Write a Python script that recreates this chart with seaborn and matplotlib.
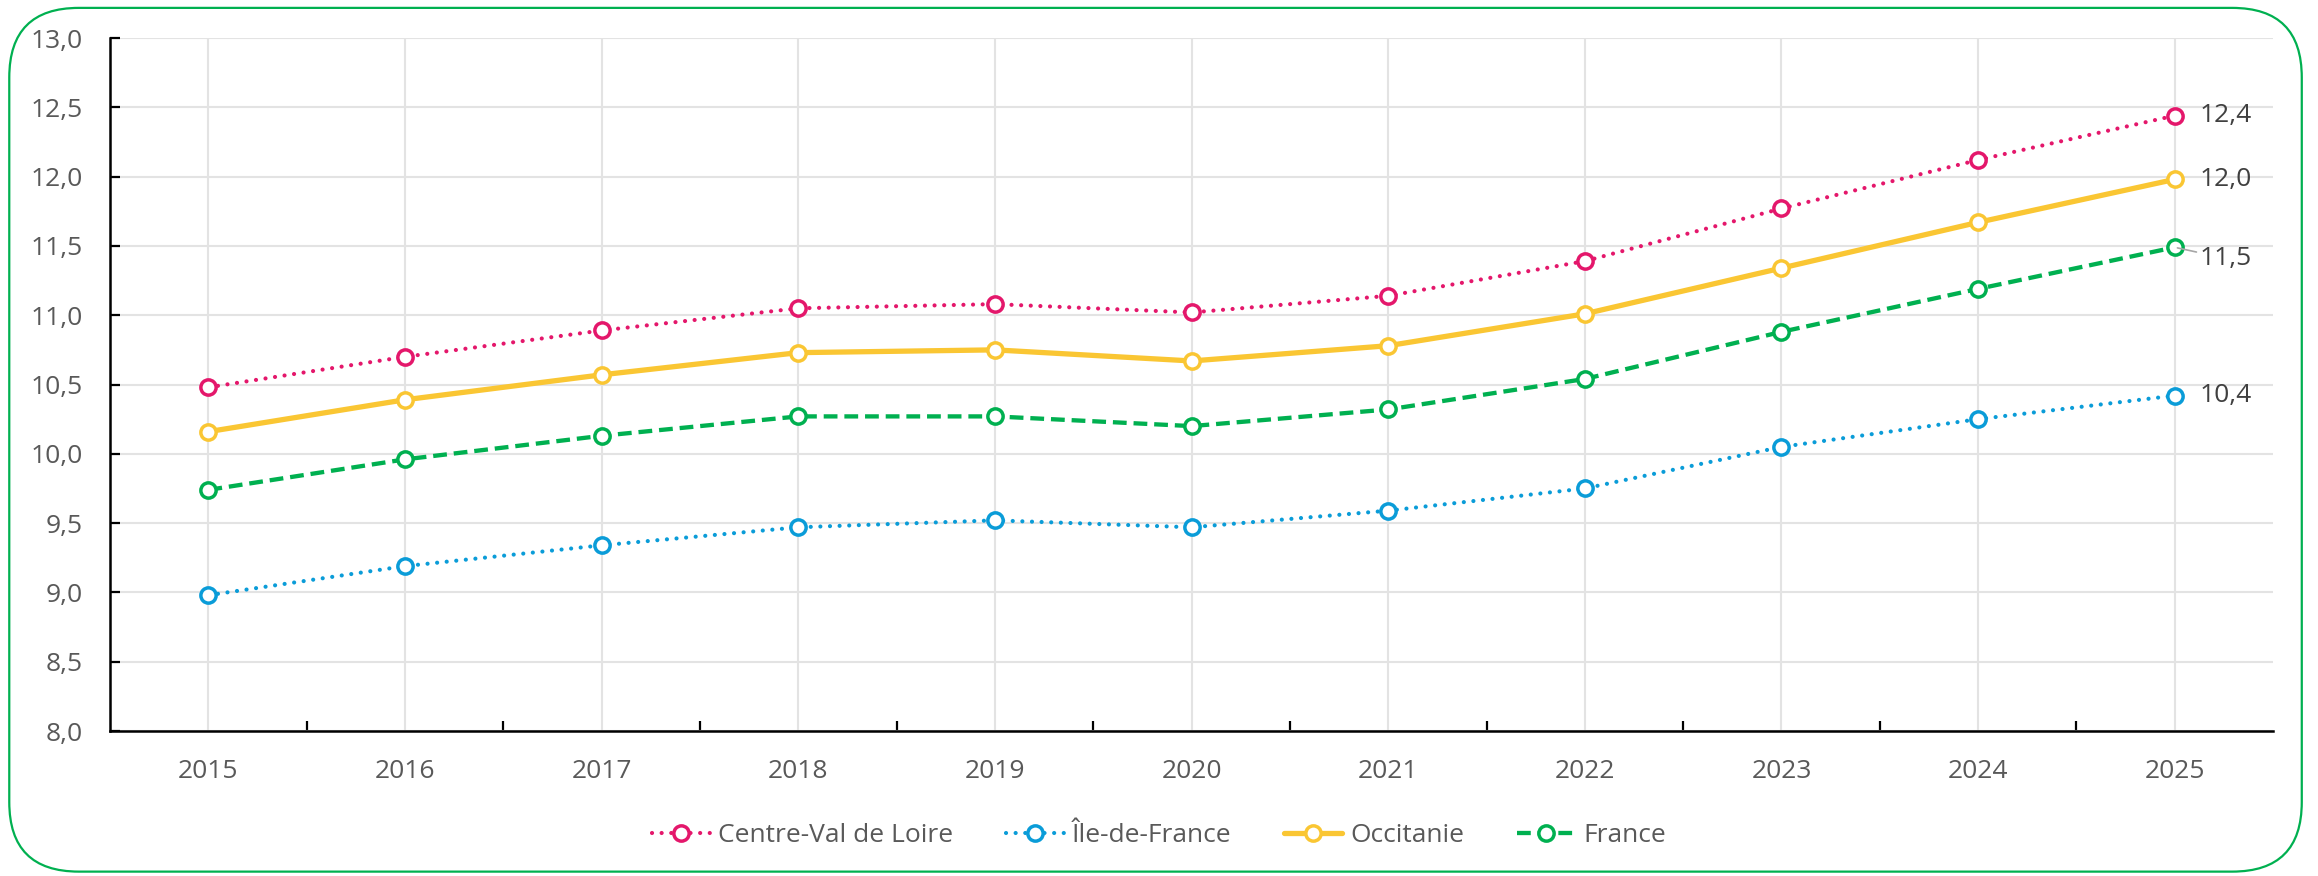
import matplotlib
matplotlib.use("Agg")
import matplotlib.pyplot as plt
from matplotlib.patches import FancyBboxPatch
from matplotlib.ticker import MultipleLocator, FixedLocator, FuncFormatter
import pandas as pd
import seaborn as sns

# data
years = [2015, 2016, 2017, 2018, 2019, 2020, 2021, 2022, 2023, 2024, 2025]
centre_val_de_loire = [10.48, 10.70, 10.89, 11.05, 11.08, 11.02, 11.14, 11.39, 11.77, 12.12, 12.44]
ile_de_france = [8.98, 9.19, 9.34, 9.47, 9.52, 9.47, 9.59, 9.75, 10.05, 10.25, 10.42]
occitanie = [10.16, 10.39, 10.57, 10.73, 10.75, 10.67, 10.78, 11.01, 11.34, 11.67, 11.98]
france = [9.74, 9.96, 10.13, 10.27, 10.27, 10.20, 10.32, 10.54, 10.88, 11.19, 11.49]
series_names = ["Centre-Val de Loire", "Île-de-France", "Occitanie", "France"]

sns.set_theme(style="white")
plt.rcParams['font.family'] = ['Open Sans', 'DejaVu Sans']

df = pd.DataFrame({
    "annee": years * 4,
    "valeur": centre_val_de_loire + ile_de_france + occitanie + france,
    "serie": [s for s in series_names for _ in years],
})

styles = {
    "Centre-Val de Loire": dict(color="#E4176B", lw=3.0, ls=(0, (0.01, 2.3)), cap="round"),
    "Île-de-France": dict(color="#0A9CD8", lw=3.0, ls=(0, (0.01, 2.3)), cap="round"),
    "Occitanie": dict(color="#FAC633", lw=3.8, ls="-", cap="butt"),
    "France": dict(color="#00B050", lw=3.1, ls=(0, (3.2, 1.6)), cap="butt"),
}

fig = plt.figure(figsize=(23.18, 8.76), dpi=100)
ax = fig.add_axes([0.0475, 0.1655, 0.9331, 0.7911])

for name in series_names:
    st = styles[name]
    sub = df[df["serie"] == name]
    sns.lineplot(data=sub, x="annee", y="valeur", ax=ax, label=name,
                 color=st["color"], linewidth=st["lw"], linestyle=st["ls"],
                 dash_capstyle=st["cap"], marker="o", markersize=11,
                 markerfacecolor="white", markeredgecolor=st["color"],
                 markeredgewidth=2.5, errorbar=None)
    last = sub["valeur"].iloc[-1]
    offset = (18, -8) if name == "France" else (18, 0)
    ax.annotate(f"{last:.1f}".replace(".", ","), xy=(sub["annee"].iloc[-1], last),
                xytext=offset, textcoords="offset points", ha="left", va="center",
                fontsize=19, color="#404040",
                arrowprops=dict(arrowstyle="-", color="#A6A6A6", lw=1.2,
                                shrinkA=0, shrinkB=2) if name == "France" else None)

ax.set_xlim(years[0] - 0.5, years[-1] + 0.5)
ax.set_ylim(8, 13)
ax.yaxis.set_major_locator(MultipleLocator(0.5))
ax.yaxis.set_major_formatter(FuncFormatter(lambda v, p: f"{v:.1f}".replace(".", ",")))
ax.xaxis.set_major_locator(FixedLocator(years))
ax.xaxis.set_minor_locator(FixedLocator([y + 0.5 for y in years[:-1]]))
ax.xaxis.set_major_formatter(FuncFormatter(lambda v, p: f"{int(round(v))}"))

ax.grid(True, which="major", color="#E3E3E3", lw=1.5)
ax.set_axisbelow(True)
for side in ["top", "right"]:
    ax.spines[side].set_visible(False)
for side in ["left", "bottom"]:
    ax.spines[side].set_color("black")
    ax.spines[side].set_linewidth(1.8)

ax.tick_params(axis="y", which="major", direction="in", length=7, width=1.6,
               color="black", labelsize=19, labelcolor="#595959", pad=20, left=True)
ax.tick_params(axis="x", which="major", length=0, labelsize=19,
               labelcolor="#595959", pad=20)
ax.tick_params(axis="x", which="minor", direction="in", length=7, width=1.6,
               color="black", bottom=True)
ax.set_xlabel("")
ax.set_ylabel("")

handles, labels = ax.get_legend_handles_labels()
ax.legend(handles, labels, loc="center", bbox_to_anchor=(0.5, 0.046),
          bbox_transform=fig.transFigure, ncol=4, frameon=False, fontsize=19,
          labelcolor="#595959", handlelength=2.2, handletextpad=0.3,
          columnspacing=2.0)

border = FancyBboxPatch((0.004, 0.005), 0.989, 0.986,
                        boxstyle="round,pad=0,rounding_size=0.03",
                        transform=fig.transFigure, fill=False,
                        edgecolor="#00B050", linewidth=1.6, mutation_aspect=2318 / 876)
fig.patches.append(border)

fig.savefig("out.png", dpi=100)
